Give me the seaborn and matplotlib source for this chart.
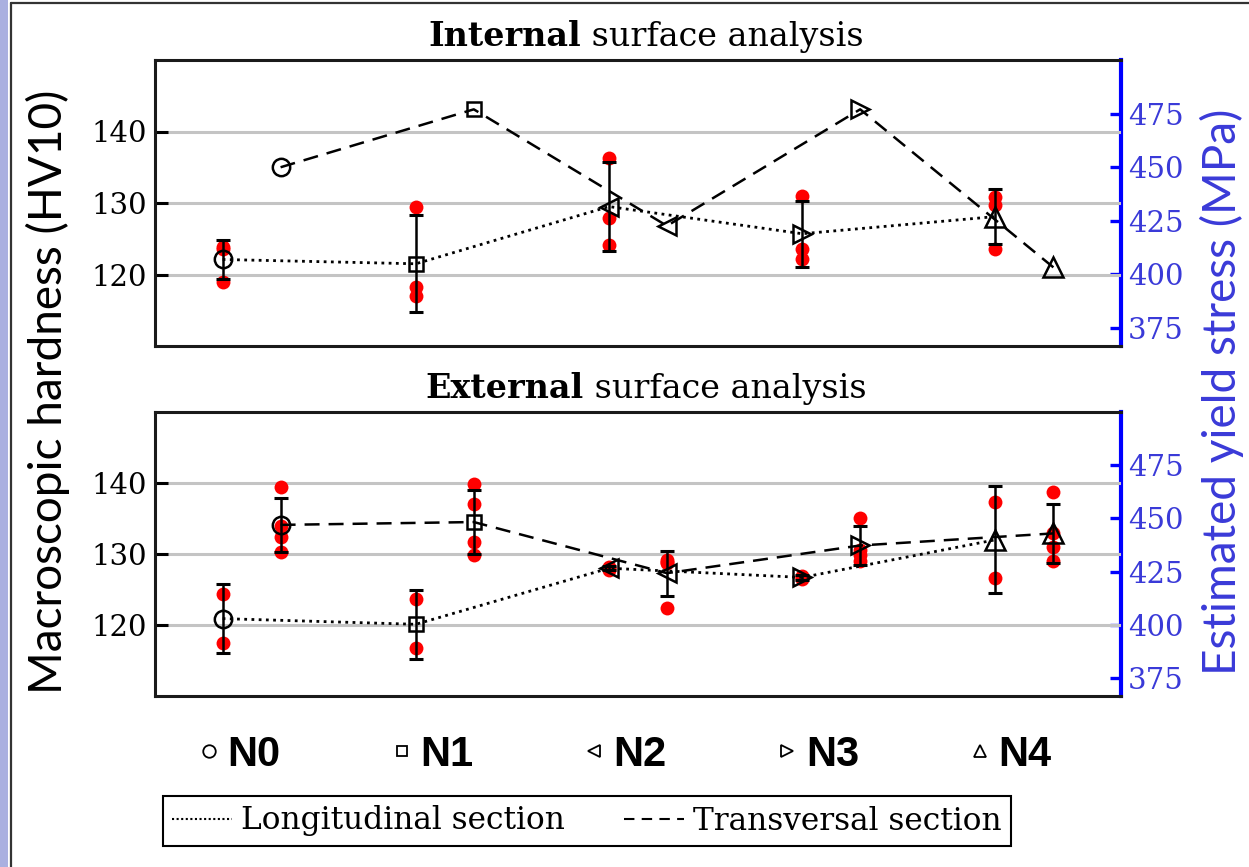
import numpy as np
import pandas as pd
import matplotlib
matplotlib.use("Agg")
import matplotlib.pyplot as plt
from matplotlib.lines import Line2D
from matplotlib.patches import Rectangle
import seaborn as sns

# ---- data -------------------------------------------------------------
groups = ["N0", "N1", "N2", "N3", "N4"]
markers = ["o", "s", "<", ">", "^"]

# Internal surface (HV10)
int_long_mean = [122.1, 121.5, 129.5, 125.7, 128.1]
int_long_sd = [2.7, 6.8, 6.2, 4.6, 3.8]
int_long_pts = [[123.9, 123.5, 119.0],
                [129.4, 118.3, 117.0],
                [136.3, 127.9, 124.1],
                [131.0, 123.6, 122.1],
                [130.8, 129.7, 123.6]]
int_trans_mean = [135.0, 143.1, 126.8, 143.1, 121.0]

# External surface (HV10)
ext_long_mean = [120.9, 120.1, 128.0, 126.7, 132.0]
ext_long_sd = [4.9, 4.85, 0.3, 0.3, 7.55]
ext_long_pts = [[124.4, 117.4],
                [123.6, 116.7],
                [128.2, 128.0, 127.8],
                [126.9, 126.7, 126.5],
                [137.3, 126.6]]
ext_trans_mean = [134.1, 134.5, 127.3, 131.2, 132.9]
ext_trans_sd = [3.85, 4.55, 3.15, 2.7, 4.1]
ext_trans_pts = [[139.4, 134.0, 132.4, 130.3],
                 [139.8, 137.0, 131.7, 129.9],
                 [129.2, 128.9, 128.7, 122.4],
                 [135.1, 130.6, 129.9, 129.0],
                 [138.7, 132.9, 131.0, 129.0]]

hv_ticks = [120, 130, 140]
mpa_ticks = [375, 400, 425, 450, 475]
MPA_PER_HV = 10.0 / 3.0

# ---- style ------------------------------------------------------------
sns.set_style("white")
plt.rcParams["font.family"] = ["DejaVu Serif"]
plt.rcParams["text.color"] = "black"
plt.rcParams["axes.labelcolor"] = "black"
plt.rcParams["ytick.color"] = "black"

W, H = 1249, 867
fig = plt.figure(figsize=(W / 100, H / 100), dpi=100)


def px_box(left, top, right, bottom):
    return [left / W, 1 - bottom / H, (right - left) / W, (bottom - top) / H]


# page frame
fig.add_artist(Rectangle((0, 0), 8 / W, 1, transform=fig.transFigure,
                         color="#aab0e0", lw=0, zorder=0))
fig.add_artist(Line2D([10.5 / W, 10.5 / W], [0, 1 - 2.5 / H],
                      transform=fig.transFigure, color="#333333", lw=1.6))
fig.add_artist(Line2D([10.5 / W, 1], [1 - 2.5 / H, 1 - 2.5 / H],
                      transform=fig.transFigure, color="#333333", lw=1.6))

ax_top = fig.add_axes(px_box(155, 60, 1121, 346))
ax_bot = fig.add_axes(px_box(155, 412, 1121, 696))

offset = 0.15
idx = np.arange(len(groups))
x_long = idx - offset
x_trans = idx + offset

marker_size = {"o": 12.5, "s": 9.5, "<": 13, ">": 13, "^": 14}
DOTTED = (0, (1, 1.6))
DASHED = (0, (6, 3.6))


def draw_panel(ax, long_mean, long_sd, long_pts,
               trans_mean, trans_sd=None, trans_pts=None):
    rows = []
    for xs, pts in ((x_long, long_pts), (x_trans, trans_pts)):
        if pts is None:
            continue
        for x, vals in zip(xs, pts):
            for v in vals:
                rows.append((x, v))
    df = pd.DataFrame(rows, columns=["x", "hv"])
    sns.scatterplot(data=df, x="x", y="hv", color="red", s=100, linewidth=0,
                    ax=ax, zorder=3, legend=False)

    sns.lineplot(x=x_long, y=long_mean, ax=ax, color="k", lw=2.0,
                 linestyle=DOTTED, sort=False, estimator=None, zorder=4,
                 legend=False)
    sns.lineplot(x=x_trans, y=trans_mean, ax=ax, color="k", lw=1.8,
                 linestyle=DASHED, sort=False, estimator=None, zorder=4,
                 legend=False)

    ax.errorbar(x_long, long_mean, yerr=long_sd, fmt="none", ecolor="k",
                elinewidth=1.8, capsize=4.8, capthick=2.2, zorder=5)
    if trans_sd is not None:
        ax.errorbar(x_trans, trans_mean, yerr=trans_sd, fmt="none",
                    ecolor="k", elinewidth=1.8, capsize=4.8, capthick=2.2,
                    zorder=5)

    for i, m in enumerate(markers):
        for xs, ys in ((x_long, long_mean), (x_trans, trans_mean)):
            ax.plot(xs[i], ys[i], marker=m, ms=marker_size[m], mfc="none",
                    mec="k", mew=1.8, ls="none", zorder=6)

    ax.set_xlim(-0.5, 4.5)
    ax.set_ylim(110, 150)
    ax.set_xticks([])
    ax.set_yticks(hv_ticks)
    ax.set_xlabel("")
    ax.set_ylabel("")
    ax.grid(axis="y", color="#c4c4c4", lw=2.2)
    ax.set_axisbelow(True)
    ax.tick_params(axis="y", left=True, direction="in", length=9, width=2.2,
                   labelsize=21, pad=6, color="black", labelcolor="black")
    for name, sp in ax.spines.items():
        sp.set_linewidth(2.2)
        sp.set_color("#1a1a1a")
    ax.spines["right"].set_visible(False)

    sec = ax.secondary_yaxis("right", functions=(lambda h: h * MPA_PER_HV,
                                                 lambda s: s / MPA_PER_HV))
    sec.set_yticks(mpa_ticks)
    sec.tick_params(right=True, direction="in", length=8, width=2.4,
                    color="#0000ff", labelcolor="#3a3ad8", labelsize=21, pad=5)
    sec.spines["right"].set_color("#0000ff")
    sec.spines["right"].set_linewidth(3.0)
    return ax


draw_panel(ax_top, int_long_mean, int_long_sd, int_long_pts, int_trans_mean)
draw_panel(ax_bot, ext_long_mean, ext_long_sd, ext_long_pts,
           ext_trans_mean, ext_trans_sd, ext_trans_pts)

# ---- titles with bold lead word -----------------------------------------
fig.canvas.draw()
renderer = fig.canvas.get_renderer()


def split_title(bold, rest, cx_px, base_px, size=24):
    t1 = fig.text(0, 0, bold, fontsize=size, fontweight="bold",
                  family="DejaVu Serif", va="baseline", ha="left",
                  color="black")
    t2 = fig.text(0, 0, rest, fontsize=size, family="DejaVu Serif",
                  va="baseline", ha="left", color="black")
    w1 = t1.get_window_extent(renderer).width
    w2 = t2.get_window_extent(renderer).width
    x0 = cx_px - (w1 + w2) / 2
    t1.set_position((x0 / W, 1 - base_px / H))
    t2.set_position(((x0 + w1) / W, 1 - base_px / H))


split_title("Internal", " surface analysis", 646, 46)
split_title("External", " surface analysis", 646, 398)

# ---- axis labels --------------------------------------------------------
fig.text(48 / W, 1 - 392 / H, "Macroscopic hardness (HV10)", rotation=90,
         ha="center", va="center", fontsize=33, family="Lato", color="black")
fig.text(1222 / W, 1 - 392 / H, "Estimated yield stress (MPa)", rotation=90,
         ha="center", va="center", fontsize=33, family="Lato", color="#3a3ad8")

# ---- legends ------------------------------------------------------------
legend_ms = {"o": 9, "s": 7, "<": 9, ">": 9, "^": 9}
marker_handles = [Line2D([], [], marker=m, ls="none", ms=legend_ms[m],
                         mfc="none", mec="k", mew=1.3) for m in markers]
fig.legend(marker_handles, groups, loc="center",
           bbox_to_anchor=(622 / W, 1 - 755 / H), ncol=5, frameon=False,
           prop={"family": "Liberation Sans", "weight": "bold", "size": 30},
           handlelength=0.8, handletextpad=0.05, columnspacing=2.5)

line_handles = [Line2D([], [], color="k", lw=1.5, linestyle=(0, (1, 1.2))),
                Line2D([], [], color="k", lw=1.5, linestyle=(0, (5, 3.5)))]
leg = fig.legend(line_handles, ["Longitudinal section", "Transversal section"],
                 loc="center", bbox_to_anchor=(587 / W, 1 - 821 / H), ncol=2,
                 frameon=True, fancybox=False, edgecolor="k", framealpha=1,
                 prop={"family": "DejaVu Serif", "size": 22.5},
                 handlelength=1.9, handletextpad=0.3, columnspacing=1.9,
                 borderpad=0.3, borderaxespad=0)
leg.get_frame().set_linewidth(1.5)

fig.savefig("out.png", dpi=100)
